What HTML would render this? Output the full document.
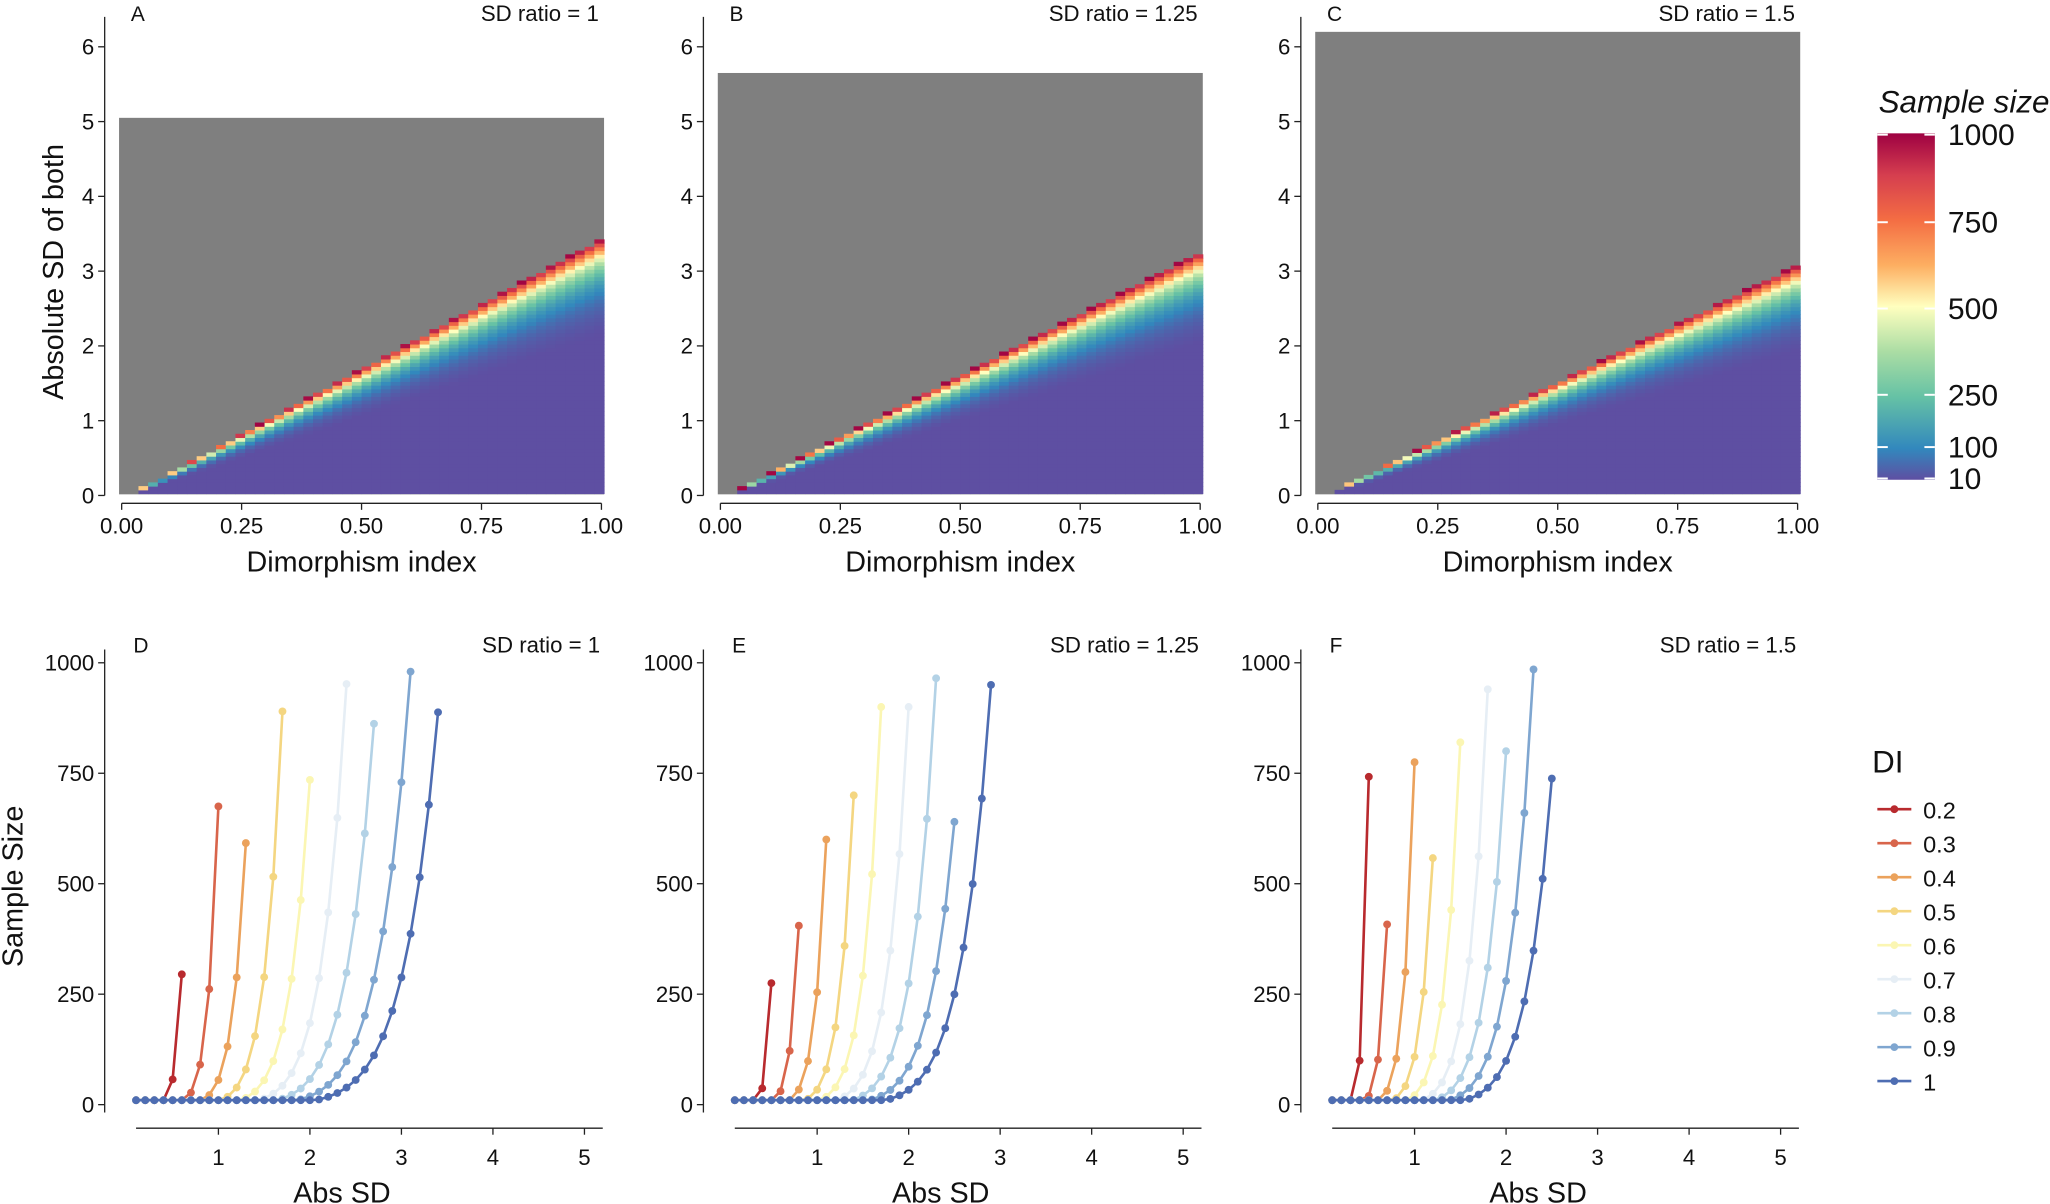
<!DOCTYPE html>
<html><head><meta charset="utf-8"><style>
html,body{margin:0;padding:0;background:#fff}
svg{display:block}
text{font-family:"Liberation Sans",sans-serif;fill:#111}
</style></head><body>
<svg id="s" width="2050" height="1204" viewBox="0 0 1568 921" xmlns="http://www.w3.org/2000/svg">
<defs>
<linearGradient id="cb" x1="0" y1="1" x2="0" y2="0">
<stop offset="0" stop-color="#5E4FA2"/>
<stop offset="0.09" stop-color="#3288BD"/>
<stop offset="0.24" stop-color="#66C2A5"/>
<stop offset="0.37" stop-color="#ABDDA4"/>
<stop offset="0.5" stop-color="#FFFFBF"/>
<stop offset="0.62" stop-color="#FDAE61"/>
<stop offset="0.75" stop-color="#F46D43"/>
<stop offset="0.88" stop-color="#D53E4F"/>
<stop offset="1" stop-color="#9E0142"/>
</linearGradient>
</defs>
<g id="root"></g>
</svg>
<script>
const NS="http://www.w3.org/2000/svg";const root=document.getElementById('root');
function el(t,a,txt){const e=document.createElementNS(NS,t);for(const k in a)e.setAttribute(k,a[k]);if(txt!==undefined)e.textContent=txt;root.appendChild(e);return e;}
function lerp(a,b,t){return a+(b-a)*t}
const stops=[[10,[94,79,162]],[100,[50,136,189]],[250,[102,194,165]],[375,[171,221,164]],[500,[255,255,191]],[625,[253,174,97]],[750,[244,109,67]],[875,[213,62,79]],[1000,[158,1,66]]];
function col(n){n=Math.max(10,Math.min(1000,n));for(let i=0;i<stops.length-1;i++){const a=stops[i],b=stops[i+1];if(n<=b[0]){const t=(n-a[0])/(b[0]-a[0]);return `rgb(${Math.round(lerp(a[1][0],b[1][0],t))},${Math.round(lerp(a[1][1],b[1][1],t))},${Math.round(lerp(a[1][2],b[1][2],t))})`;}}return 'rgb(158,1,66)';}
const tops=[{x0:93,x1:460,ax:80,L:'A',r:'SD ratio = 1',top:5.05,k:3.45},{x0:551,x1:918,ax:538,L:'B',r:'SD ratio = 1.25',top:5.65,k:3.27},{x0:1008,x1:1375,ax:995,L:'C',r:'SD ratio = 1.5',top:6.2,k:3.1}];
const Y0=379,YU=57.2;
tops.forEach(p=>{
 const W=p.x1-p.x0; const X=d=>p.x0+d*W; const Y=s=>Y0-s*YU;
 const nx=50,ds=0.05;
 const cw=(W+4)/nx;
 el('rect',{x:p.x0-2,y:Y(p.top),width:W+4,height:Y(0.05)-Y(p.top)+2,fill:'#7f7f7f'});
 for(let i=0;i<nx;i++){const d=(i+0.5)/nx;const sb=p.k*(d-0.02)/0.98;
  for(let s=0.05;s<p.top;s+=ds){const n=1000*Math.pow(s/sb,10);if(n>1000||sb<=0)break;
   el('rect',{x:p.x0-2+i*cw,y:Y(s+ds/2),width:cw+0.4,height:ds*YU+0.4,fill:col(n)});}}
 el('line',{x1:p.ax,y1:Y(6.4),x2:p.ax,y2:Y0,stroke:'#222','stroke-width':1});
 el('line',{x1:p.x0,y1:385,x2:p.x1,y2:385,stroke:'#222','stroke-width':1});
 for(let s=0;s<=6;s++){el('line',{x1:p.ax-5,y1:Y(s),x2:p.ax,y2:Y(s),stroke:'#222'});el('text',{x:p.ax-8,y:Y(s)+6,'text-anchor':'end','font-size':17},s);}
 ['0.00','0.25','0.50','0.75','1.00'].forEach((t,i)=>{const x=X(i/4);el('line',{x1:x,y1:385,x2:x,y2:390,stroke:'#222'});el('text',{x:x,y:408,'text-anchor':'middle','font-size':17},t);});
 el('text',{x:(p.x0+p.x1)/2,y:437,'text-anchor':'middle','font-size':22},'Dimorphism index');
 el('text',{x:p.ax+20,y:16,'font-size':16},p.L);
 el('text',{x:p.x1-2,y:16,'text-anchor':'end','font-size':17},p.r);
});
el('text',{x:48,y:208,'text-anchor':'middle','font-size':22,transform:'rotate(-90 48 208)'},'Absolute SD of both');
el('text',{x:1437,y:86,'font-size':24,'font-style':'italic'},'Sample size');
el('rect',{x:1436,y:102,width:44,height:265,fill:'url(#cb)'});
[[1000,103],[750,170],[500,236],[250,302],[100,342],[10,366]].forEach(([v,y])=>{el('line',{x1:1436,y1:y,x2:1444,y2:y,stroke:'#fff','stroke-width':1.5});el('line',{x1:1472,y1:y,x2:1480,y2:y,stroke:'#fff','stroke-width':1.5});el('text',{x:1490,y:y+8,'font-size':23},v);});
const cols=['#B82A2E','#D8654B','#EBA25C','#F4D681','#FBF6B3','#E6EEF5','#B3D2E6','#7FA6D0','#4E6DB2'];
const dis=['0.2','0.3','0.4','0.5','0.6','0.7','0.8','0.9','1'];
const bots=[{x0:97,ax:80,L:'D',r:'SD ratio = 1',e:[[0.6,295],[1.0,675],[1.3,592],[1.7,890],[2.0,735],[2.4,952],[2.7,862],[3.1,980],[3.4,888]]},
{x0:555,ax:538,L:'E',r:'SD ratio = 1.25',e:[[0.5,275],[0.8,405],[1.1,600],[1.4,700],[1.7,900],[2.0,900],[2.3,965],[2.5,640],[2.9,950]]},
{x0:1012,ax:995,L:'F',r:'SD ratio = 1.5',e:[[0.5,742],[0.7,408],[1.0,775],[1.2,558],[1.5,820],[1.8,940],[2.0,800],[2.3,985],[2.5,738]]}];
const BY0=845,BU=0.338,XU=70;
bots.forEach(p=>{
 const X=s=>p.x0+s*XU,Y=n=>BY0-n*BU;
 el('line',{x1:p.ax,y1:Y(1030),x2:p.ax,y2:851,stroke:'#222'});
 el('line',{x1:X(0.1),y1:863,x2:X(5.2),y2:863,stroke:'#222'});
 [0,250,500,750,1000].forEach(v=>{el('line',{x1:p.ax-5,y1:Y(v),x2:p.ax,y2:Y(v),stroke:'#222'});el('text',{x:p.ax-8,y:Y(v)+6,'text-anchor':'end','font-size':17},v);});
 [1,2,3,4,5].forEach(v=>{el('line',{x1:X(v),y1:863,x2:X(v),y2:868,stroke:'#222'});el('text',{x:X(v),y:891,'text-anchor':'middle','font-size':17},v);});
 el('text',{x:X(2.35),y:920,'text-anchor':'middle','font-size':22},'Abs SD');
 el('text',{x:p.ax+22,y:499,'font-size':16},p.L);
 el('text',{x:p.x0+362,y:499,'text-anchor':'end','font-size':17},p.r);
 p.e.forEach(([se,ne],i)=>{const pts=[];const m=Math.round(se*10);for(let j=1;j<=m;j++){const s=j/10;let n=ne*Math.pow(s/se,9);n=Math.max(10,n);if(j===m)n=ne;pts.push([X(s),Y(n)]);}
  el('polyline',{points:pts.map(q=>q.join(',')).join(' '),fill:'none',stroke:cols[i],'stroke-width':2});
  pts.forEach(q=>el('circle',{cx:q[0],cy:q[1],r:3,fill:cols[i]}));});
});
el('text',{x:17,y:678,'text-anchor':'middle','font-size':22,transform:'rotate(-90 17 678)'},'Sample Size');
el('text',{x:1432,y:591,'font-size':24},'DI');
dis.forEach((d,i)=>{const y=619+26*i;el('line',{x1:1436,y1:y,x2:1462,y2:y,stroke:cols[i],'stroke-width':2});el('circle',{cx:1449,cy:y,r:3,fill:cols[i]});el('text',{x:1471,y:y+7,'font-size':18},d);});
</script>
</body></html>
